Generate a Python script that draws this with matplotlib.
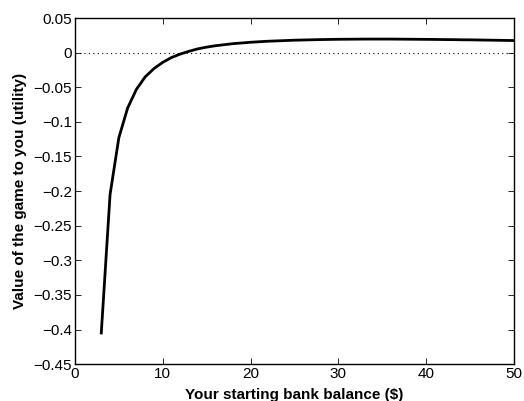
import matplotlib
matplotlib.use("Agg")
import matplotlib.pyplot as plt

balance = list(range(3, 51))
value = [-0.405, -0.205, -0.123, -0.080, -0.053, -0.035, -0.023, -0.014, -0.007, -0.002,
         0.002, 0.0055, 0.008, 0.010, 0.0115, 0.013, 0.014, 0.015, 0.0158, 0.0165,
         0.017, 0.0175, 0.018, 0.0183, 0.0186, 0.0189, 0.0191, 0.0193, 0.0194, 0.0195,
         0.0196, 0.0196, 0.0196, 0.0196, 0.0195, 0.0194, 0.0193, 0.0192, 0.0191, 0.0189,
         0.0188, 0.0186, 0.0185, 0.0183, 0.0181, 0.0179, 0.0177, 0.0175]
xticks = [0, 10, 20, 30, 40, 50]
yticks = [0.05, 0, -0.05, -0.1, -0.15, -0.2, -0.25, -0.3, -0.35, -0.4, -0.45]
yticklabels = ["0.05", "0", "\u22120.05", "\u22120.1", "\u22120.15", "\u22120.2", "\u22120.25",
               "\u22120.3", "\u22120.35", "\u22120.4", "\u22120.45"]

plt.rcParams['font.family'] = ['Liberation Sans', 'DejaVu Sans']
fig = plt.figure(figsize=(5.24, 4.01), dpi=100)
ax = fig.add_axes([0.143, 0.092, 0.838, 0.863])
ax.axhline(0, color='black', lw=0.8, ls=(0, (1, 3)))
ax.plot(balance, value, color='black', lw=2)
ax.set_xlim(0, 50)
ax.set_ylim(-0.45, 0.05)
ax.set_xticks(xticks)
ax.set_yticks(yticks)
ax.set_yticklabels(yticklabels)
ax.tick_params(direction='in', top=True, right=True, labelsize=11, length=4, width=0.6, pad=2)
for s in ax.spines.values():
    s.set_linewidth(1.0)
ax.set_xlabel("Your starting bank balance ($)", fontsize=11, fontweight='bold', labelpad=5)
ax.set_ylabel("Value of the game to you (utility)", fontsize=11, fontweight='bold', labelpad=5)
fig.savefig("out.png", dpi=100)
